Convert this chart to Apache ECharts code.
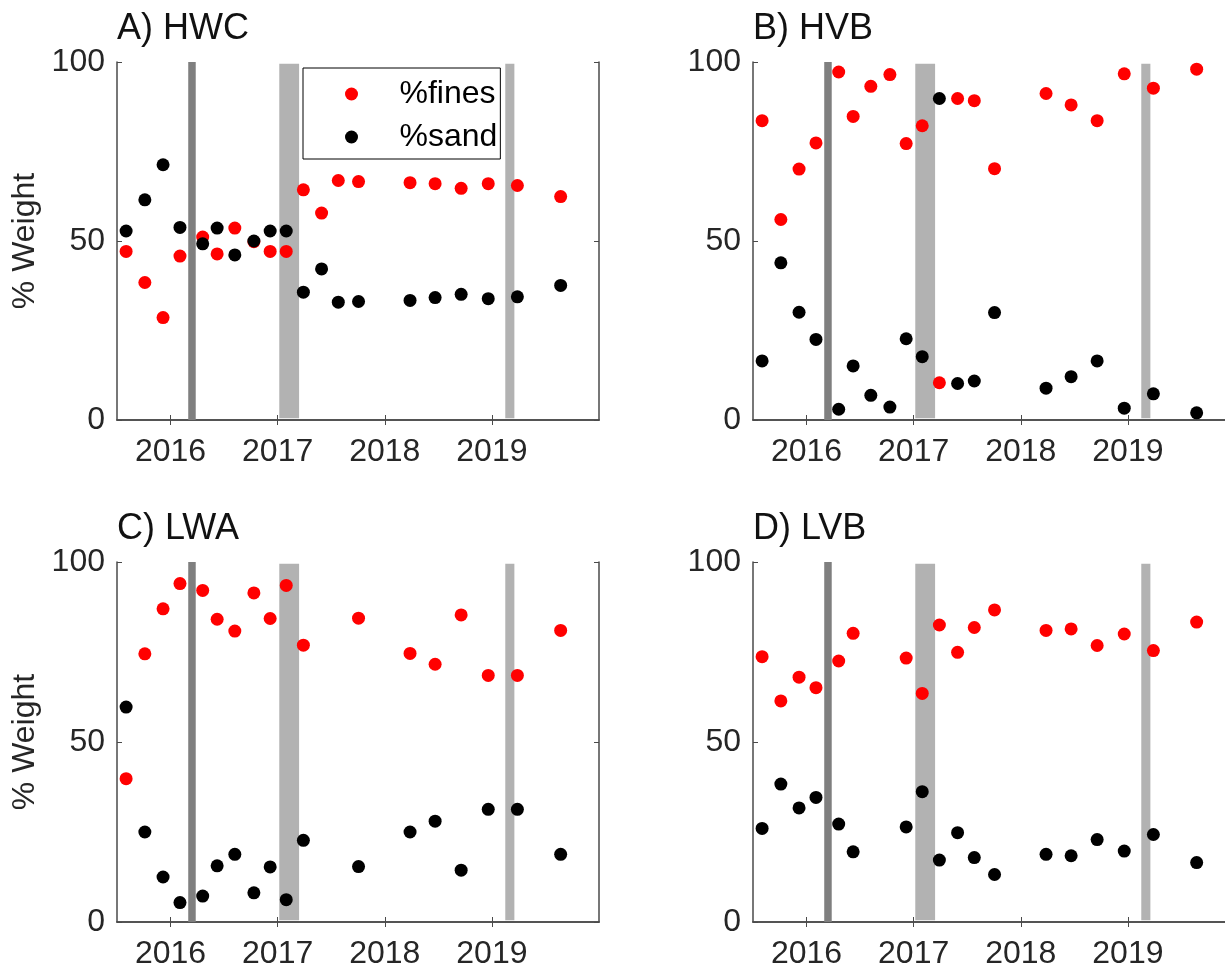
<!DOCTYPE html>
<html>
<head>
<meta charset="utf-8">
<script src="https://cdn.jsdelivr.net/npm/echarts@6/dist/echarts.min.js"></script>
<style>
  html, body { margin: 0; padding: 0; background: #fff; }
  #chart { width: 1225px; height: 972px; }
</style>
</head>
<body>
<div id="chart"></div>
<script>
// Sampling dates (decimal years)
const sampleYears = [2015.585, 2015.76, 2015.93, 2016.088, 2016.30, 2016.435, 2016.60, 2016.778, 2016.93, 2017.08,
                     2017.24, 2017.41, 2017.566, 2017.755, 2018.236, 2018.47, 2018.713, 2018.966, 2019.238, 2019.642];

// % weight by site (null = no sample)
const hwcFines = [47.1, 38.4, 28.6, 45.8, 51.1, 46.4, 53.6, 49.8, 47.1, 47.1, 64.3, 57.8, 66.9, 66.6, 66.3, 66.0, 64.7, 66.0, 65.5, 62.4];
const hwcSand  = [52.8, 61.5, 71.3, 53.8, 49.2, 53.6, 46.1, 50.0, 52.8, 52.8, 35.7, 42.2, 32.9, 33.1, 33.4, 34.2, 35.1, 33.9, 34.4, 37.6];

const hvbFines = [83.6, 56.0, 70.1, 77.4, 97.2, 84.8, 93.2, 96.5, 77.2, 82.2, 10.4, 89.8, 89.2, 70.2, 91.2, 88.0, 83.6, 96.7, 92.7, 98.0];
const hvbSand  = [16.5, 43.9, 30.1, 22.5, 3.0, 15.1, 6.9, 3.6, 22.7, 17.7, 89.8, 10.2, 10.9, 30.0, 8.9, 12.1, 16.5, 3.3, 7.3, 2.0];

const lwaFines = [39.8, 74.5, 87.0, 94.0, 92.1, 84.1, 80.8, 91.4, 84.3, 93.5, 76.9, null, null, 84.4, 74.6, 71.6, 85.3, 68.5, 68.5, 81.0];
const lwaSand  = [59.7, 25.0, 12.5, 5.4, 7.2, 15.6, 18.8, 8.1, 15.3, 6.2, 22.7, null, null, 15.4, 25.0, 28.0, 14.4, 31.3, 31.3, 18.8];

const lvbFines = [73.7, 61.4, 68.0, 65.1, 72.5, 80.2, null, null, 73.3, 63.5, 82.5, 74.9, 81.8, 86.7, 81.0, 81.4, 76.8, 80.0, 75.4, 83.3];
const lvbSand  = [26.0, 38.3, 31.7, 34.6, 27.2, 19.5, null, null, 26.4, 36.2, 17.2, 24.8, 17.9, 13.2, 18.8, 18.4, 22.9, 19.7, 24.3, 16.5];

// Event periods shaded on every panel (decimal years)
const eventStart = [2016.165, 2017.015, 2019.125];
const eventEnd   = [2016.235, 2017.200, 2019.210];

const yearTicks = [2016, 2017, 2018, 2019];
const siteTitles = ['A) HWC', 'B) HVB', 'C) LWA', 'D) LVB'];

const FONT = '"Liberation Sans", Arial, Helvetica, sans-serif';
const AXIS_COLOR = '#4a4a4a';
const TEXT_COLOR = '#262626';
const bandColors = ['#7f7f7f', '#b2b2b2', '#b2b2b2'];
const bandSpan = [[0, 100], [0.5, 99.5], [0.5, 99.5]];

const panels = [
  { left: 117, top: 62, height: 358, fines: hwcFines, sand: hwcSand, yName: '% Weight' },
  { left: 753, top: 62, height: 358, fines: hvbFines, sand: hvbSand, yName: '' },
  { left: 117, top: 562, height: 360, fines: lwaFines, sand: lwaSand, yName: '% Weight' },
  { left: 753, top: 562, height: 360, fines: lvbFines, sand: lvbSand, yName: '' }
];
const PANEL_WIDTH = 482;

function pairs(values) {
  const out = [];
  values.forEach((v, i) => { if (v !== null) out.push([sampleYears[i], v]); });
  return out;
}

const grid = [], xAxis = [], yAxis = [], series = [], title = [];

panels.forEach((p, k) => {
  grid.push({ left: p.left, top: p.top, width: PANEL_WIDTH, height: p.height,
              containLabel: false, outerBoundsMode: 'none' });

  title.push({
    text: siteTitles[k], left: p.left, top: p.top - 51, padding: 0,
    textStyle: { fontFamily: FONT, fontSize: 36, fontWeight: 'normal', color: '#111' }
  });

  const tickStyle = { show: true, inside: true, length: 5, lineStyle: { color: AXIS_COLOR, width: 1 } };
  const lineStyle = { show: true, lineStyle: { color: AXIS_COLOR, width: 1.5 } };

  xAxis.push({
    type: 'value', gridIndex: k, position: 'bottom', min: 2015.5, max: 2020,
    axisLine: lineStyle,
    axisTick: Object.assign({ customValues: yearTicks }, tickStyle),
    axisLabel: { customValues: yearTicks, formatter: v => String(Math.round(v)), margin: 16,
                 fontFamily: FONT, fontSize: 32, color: TEXT_COLOR },
    splitLine: { show: false }
  });
  xAxis.push({
    type: 'value', gridIndex: k, position: 'top', min: 2015.5, max: 2020,
    axisLine: lineStyle,
    axisTick: Object.assign({ customValues: yearTicks }, tickStyle),
    axisLabel: { show: false },
    splitLine: { show: false }
  });

  yAxis.push({
    type: 'value', gridIndex: k, position: 'left', min: 0, max: 100, interval: 50,
    name: p.yName, nameLocation: 'middle', nameGap: 76,
    nameTextStyle: { fontFamily: FONT, fontSize: 32, color: TEXT_COLOR },
    axisLine: lineStyle, axisTick: tickStyle,
    axisLabel: { margin: 12, fontFamily: FONT, fontSize: 32, color: TEXT_COLOR },
    splitLine: { show: false }
  });
  yAxis.push({
    type: 'value', gridIndex: k, position: 'right', min: 0, max: 100, interval: 50,
    axisLine: lineStyle, axisTick: tickStyle,
    axisLabel: { show: false },
    splitLine: { show: false }
  });

  // shaded event periods
  series.push({
    type: 'custom', xAxisIndex: 2 * k, yAxisIndex: 2 * k, z: 1, silent: true,
    data: eventStart.map((s, i) => ({
      value: [s, eventEnd[i], bandSpan[i][0], bandSpan[i][1]],
      itemStyle: { color: bandColors[i] }
    })),
    encode: { x: [0, 1], y: [2, 3] },
    renderItem: (params, api) => {
      const p0 = api.coord([api.value(0), api.value(3)]);
      const p1 = api.coord([api.value(1), api.value(2)]);
      return {
        type: 'rect',
        shape: { x: p0[0], y: p0[1], width: p1[0] - p0[0], height: p1[1] - p0[1] },
        style: { fill: api.visual('color') }
      };
    }
  });

  series.push({
    name: '%fines', type: 'scatter', xAxisIndex: 2 * k, yAxisIndex: 2 * k, z: 3,
    symbol: 'circle', symbolSize: 13, itemStyle: { color: '#ff0000', opacity: 1 },
    data: pairs(p.fines)
  });
  series.push({
    name: '%sand', type: 'scatter', xAxisIndex: 2 * k, yAxisIndex: 2 * k, z: 4,
    symbol: 'circle', symbolSize: 13, itemStyle: { color: '#000000', opacity: 1 },
    data: pairs(p.sand)
  });
});

const chart = echarts.init(document.getElementById('chart'), null, { renderer: 'canvas' });
chart.setOption({
  animation: false,
  backgroundColor: '#ffffff',
  title: title,
  grid: grid,
  xAxis: xAxis,
  yAxis: yAxis,
  legend: {
    data: ['%fines', '%sand'],
    orient: 'vertical', left: 303, top: 68,
    padding: [10, 3, 6, 42], itemGap: 11,
    itemWidth: 86, itemHeight: 13,
    icon: 'circle',
    backgroundColor: '#ffffff', borderColor: '#000000', borderWidth: 1,
    textStyle: { fontFamily: FONT, fontSize: 32, color: '#000000', padding: 0 },
    selectedMode: false, z: 10
  },
  series: series
});
</script>
</body>
</html>
